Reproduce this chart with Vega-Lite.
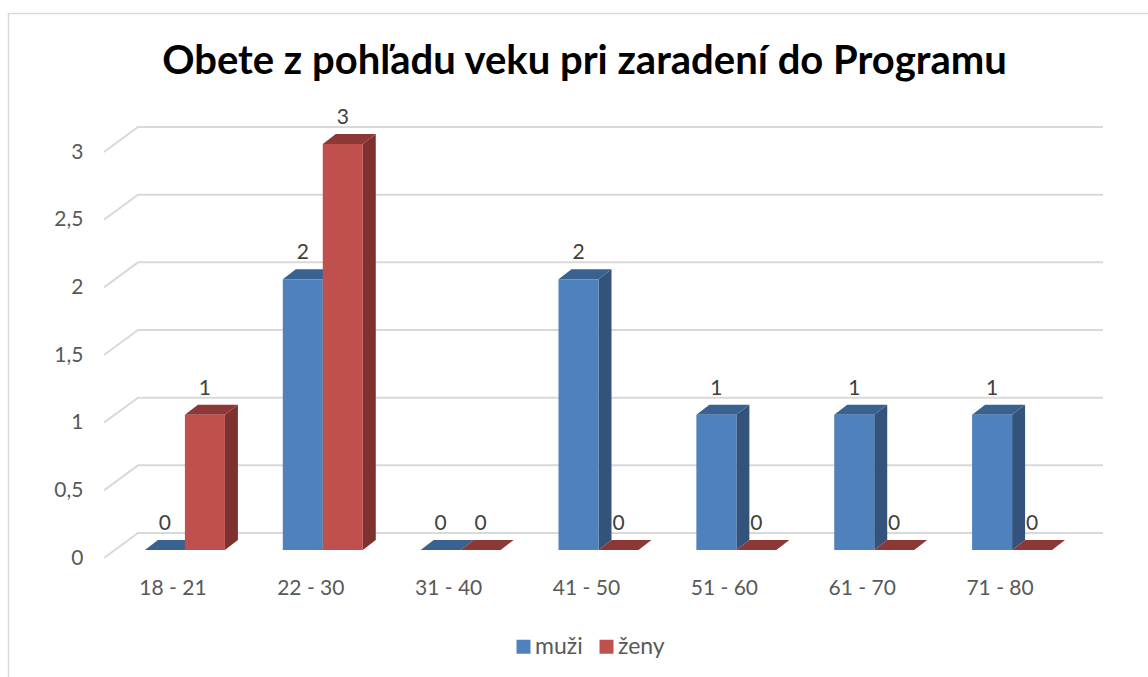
{
"$schema":"https://vega.github.io/schema/vega-lite/v6.json",
"width":965,"height":406,
"autosize":{"type":"none"},
"padding":{"left":116,"top":144,"right":67,"bottom":127},
"background":"#ffffff",
"config":{"view":{"stroke":null},"font":"Lato"},
"title":{"text":"Obete z pohľadu veku pri zaradení do Programu","font":"Lato","fontSize":40,"fontWeight":"bold","color":"#000000","anchor":"middle","frame":"group","dx":-14,"offset":-71},
"datasets":{
"bars":[
{"vek":"18 - 21","pohlavie":"muži","pocet":0},{"vek":"18 - 21","pohlavie":"ženy","pocet":1},
{"vek":"22 - 30","pohlavie":"muži","pocet":2},{"vek":"22 - 30","pohlavie":"ženy","pocet":3},
{"vek":"31 - 40","pohlavie":"muži","pocet":0},{"vek":"31 - 40","pohlavie":"ženy","pocet":0},
{"vek":"41 - 50","pohlavie":"muži","pocet":2},{"vek":"41 - 50","pohlavie":"ženy","pocet":0},
{"vek":"51 - 60","pohlavie":"muži","pocet":1},{"vek":"51 - 60","pohlavie":"ženy","pocet":0},
{"vek":"61 - 70","pohlavie":"muži","pocet":1},{"vek":"61 - 70","pohlavie":"ženy","pocet":0},
{"vek":"71 - 80","pohlavie":"muži","pocet":1},{"vek":"71 - 80","pohlavie":"ženy","pocet":0}],
"grid":[{"t":0},{"t":0.5},{"t":1},{"t":1.5},{"t":2},{"t":2.5},{"t":3}],
"frame":[{"f":"frame"}]
},
"data":{"name":"bars"},
"resolve":{"scale":{"color":"independent"}},
"layer":[
{"data":{"name":"frame"},
 "mark":{"type":"point","filled":false,"stroke":"#D9D9D9","strokeWidth":1.5,"opacity":1,"size":4,"shape":"M-590,330 L-590,-333.5 L549.5,-333.5"},
 "encoding":{}},
{"data":{"name":"grid"},
 "mark":{"type":"point","filled":false,"stroke":"#D9D9D9","strokeWidth":2,"opacity":1,"size":4,"shape":"M-494.5,8 L-460.5,-17 L504.5,-17"},
 "encoding":{"y":{"field":"t","type":"quantitative","scale":{"domain":[0,3],"nice":false},
   "axis":{"values":[0,0.5,1,1.5,2,2.5,3],"title":null,"domain":false,"ticks":false,"grid":false,"labelPadding":33,"labelOffset":8,"labelFontSize":21,"labelFont":"Lato","labelColor":"#595959","labelExpr":"replace('' + datum.value,'.',',')"}}}},
{"transform":[{"filter":"datum.pocet>0"}],
 "mark":{"type":"point","filled":true,"opacity":1,"size":4},
 "encoding":{
  "x":{"field":"vek","type":"nominal","scale":{"domain":["18 - 21","22 - 30","31 - 40","41 - 50","51 - 60","61 - 70","71 - 80"],"paddingInner":0.42,"paddingOuter":0.21},"axis":{"title":null,"domain":false,"ticks":false,"labelAngle":0,"labelPadding":27,"labelOffset":-12,"labelFontSize":21,"labelFont":"Lato","labelColor":"#595959"}},
  "xOffset":{"field":"pohlavie","type":"nominal","scale":{"domain":["muži","ženy"]}},
  "y":{"field":"pocet","type":"quantitative"},
  "shape":{"field":"pocet","type":"ordinal","legend":null,"scale":{"domain":[1,2,3],"range":["M20,0 L33,-10 L33,125.3 L20,135.3 Z","M20,0 L33,-10 L33,260.7 L20,270.7 Z","M20,0 L33,-10 L33,396 L20,406 Z"]}},
  "color":{"field":"pohlavie","type":"nominal","legend":null,"scale":{"domain":["muži","ženy"],"range":["#33537C","#7D3230"]}}
 }},
{"mark":{"type":"point","filled":true,"opacity":1,"size":4,"shape":"M-20,0 L20,0 L33,-10 L-7,-10 Z"},
 "encoding":{
  "x":{"field":"vek","type":"nominal"},
  "xOffset":{"field":"pohlavie","type":"nominal"},
  "y":{"field":"pocet","type":"quantitative"},
  "color":{"field":"pohlavie","type":"nominal","legend":null,"scale":{"domain":["muži","ženy"],"range":["#3A6290","#8C3836"]}}
 }},
{"mark":{"type":"bar","width":40},
 "encoding":{
  "x":{"field":"vek","type":"nominal"},
  "xOffset":{"field":"pohlavie","type":"nominal"},
  "y":{"field":"pocet","type":"quantitative"},
  "color":{"field":"pohlavie","type":"nominal","scale":{"domain":["muži","ženy"],"range":["#4F81BD","#C0504D"]},
   "legend":{"title":null,"orient":"none","legendX":396,"legendY":491,"direction":"horizontal","symbolType":"square","symbolSize":196,"symbolStrokeWidth":0,"labelFontSize":23,"labelFont":"Lato","labelColor":"#595959","columnPadding":12,"labelOffset":0}}
 }},
{"mark":{"type":"text","fontSize":21,"font":"Lato","color":"#404040","dy":-26,"baseline":"middle"},
 "encoding":{
  "x":{"field":"vek","type":"nominal"},
  "xOffset":{"field":"pohlavie","type":"nominal"},
  "y":{"field":"pocet","type":"quantitative"},
  "text":{"field":"pocet","type":"quantitative"}
 }}
]
}
